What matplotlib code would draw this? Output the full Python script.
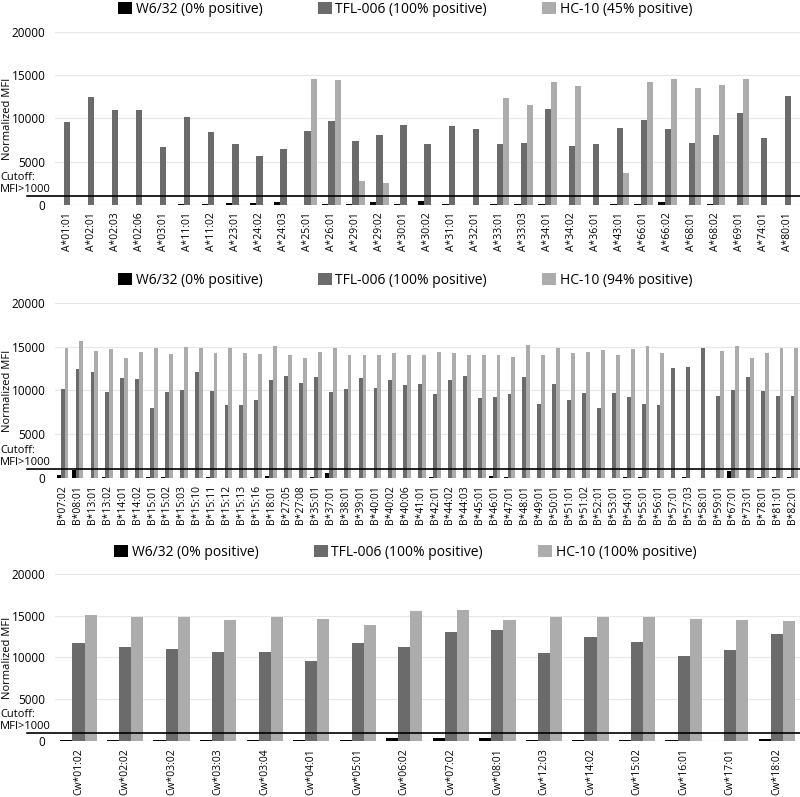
import numpy as np
import matplotlib
matplotlib.use('Agg')
import matplotlib.pyplot as plt

plt.rcParams['font.family'] = ['Open Sans', 'DejaVu Sans']

# HLA-A panel
a_labels = ['A*01:01', 'A*02:01', 'A*02:03', 'A*02:06', 'A*03:01', 'A*11:01', 'A*11:02', 'A*23:01',
            'A*24:02', 'A*24:03', 'A*25:01', 'A*26:01', 'A*29:01', 'A*29:02', 'A*30:01', 'A*30:02',
            'A*31:01', 'A*32:01', 'A*33:01', 'A*33:03', 'A*34:01', 'A*34:02', 'A*36:01', 'A*43:01',
            'A*66:01', 'A*66:02', 'A*68:01', 'A*68:02', 'A*69:01', 'A*74:01', 'A*80:01']
a_w632 = [50, 50, 50, 50, 50, 100, 100, 200, 250, 350, 50, 100, 100, 300, 100, 450,
          150, 50, 100, 100, 100, 50, 50, 100, 150, 300, 50, 100, 50, 50, 50]
a_tfl = [9600, 12500, 10950, 10950, 6700, 10200, 8400, 7000, 5700, 6500, 8500, 9700, 7400, 8100,
         9300, 7000, 9100, 8800, 7100, 7200, 11100, 6800, 7000, 8900, 9800, 8800, 7200, 8100,
         10600, 7700, 12600]
a_hc10 = [30, 30, 30, 30, 30, 30, 30, 30, 30, 30, 14600, 14400, 2800, 2500, 30, 30,
          30, 30, 12350, 11500, 14200, 13700, 30, 3700, 14200, 14600, 13500, 13850, 14600, 30, 30]

# HLA-B panel
b_labels = ['B*07:02', 'B*08:01', 'B*13:01', 'B*13:02', 'B*14:01', 'B*14:02', 'B*15:01', 'B*15:02',
            'B*15:03', 'B*15:10', 'B*15:11', 'B*15:12', 'B*15:13', 'B*15:16', 'B*18:01', 'B*27:05',
            'B*27:08', 'B*35:01', 'B*37:01', 'B*38:01', 'B*39:01', 'B*40:01', 'B*40:02', 'B*40:06',
            'B*41:01', 'B*42:01', 'B*44:02', 'B*44:03', 'B*45:01', 'B*46:01', 'B*47:01', 'B*48:01',
            'B*49:01', 'B*50:01', 'B*51:01', 'B*51:02', 'B*52:01', 'B*53:01', 'B*54:01', 'B*55:01',
            'B*56:01', 'B*57:01', 'B*57:03', 'B*58:01', 'B*59:01', 'B*67:01', 'B*73:01', 'B*78:01',
            'B*81:01', 'B*82:01']
b_w632 = [300, 950, 50, 100, 50, 50, 100, 100, 50, 50, 150, 50, 50, 50, 200, 50,
          50, 100, 600, 50, 50, 50, 50, 50, 50, 150, 50, 50, 50, 250, 100, 50,
          50, 50, 50, 50, 50, 50, 100, 100, 50, 50, 150, 50, 50, 750, 50, 100, 150, 150]
b_tfl = [10200, 12500, 12100, 9800, 11400, 11300, 8000, 9800, 10100, 12100, 9900, 8300, 8300, 8900,
         11200, 11700, 10900, 11500, 9800, 10200, 11400, 10300, 11200, 10600, 10700, 9600, 11200,
         11700, 9100, 9250, 9600, 11500, 8400, 10700, 8900, 9700, 8000, 9700, 9200, 8450, 8300,
         12600, 12700, 14800, 9400, 10100, 11500, 9900, 9400, 9400]
b_hc10 = [14800, 15600, 14500, 14700, 13700, 14400, 14900, 14200, 15000, 14800, 14300, 14800, 14300,
          14200, 15100, 14100, 13700, 14400, 14800, 14000, 14100, 14100, 14300, 14000, 14000, 14400,
          14300, 14100, 14000, 14000, 13800, 15200, 14100, 14800, 14300, 14400, 14600, 14100, 14700,
          15100, 14300, 30, 30, 30, 14500, 15100, 13700, 14300, 14900, 14800]

# HLA-C panel
c_labels = ['Cw*01:02', 'Cw*02:02', 'Cw*03:02', 'Cw*03:03', 'Cw*03:04', 'Cw*04:01', 'Cw*05:01',
            'Cw*06:02', 'Cw*07:02', 'Cw*08:01', 'Cw*12:03', 'Cw*14:02', 'Cw*15:02', 'Cw*16:01',
            'Cw*17:01', 'Cw*18:02']
c_w632 = [100, 100, 100, 100, 100, 100, 100, 350, 400, 350, 150, 100, 100, 150, 50, 200]
c_tfl = [11700, 11300, 11000, 10600, 10700, 9600, 11700, 11200, 13100, 13300, 10500, 12500,
         11800, 10200, 10900, 12800]
c_hc10 = [15100, 14900, 14850, 14500, 14850, 14600, 13900, 15600, 15700, 14500, 14900, 14800,
          14900, 14600, 14500, 14400]

hc10_pos = ['45%', '94%', '100%']

col_w = 'black'
col_tfl = '#6b6b6b'
col_hc = '#acacac'


def draw_panel(ax, labels, w632, tfl, hc10, hc_pct):
    x = np.arange(len(labels))
    w = 0.26
    b1 = ax.bar(x - w, w632, w, color=col_w, label='W6/32 (0% positive)')
    b2 = ax.bar(x, tfl, w, color=col_tfl, label='TFL-006 (100% positive)')
    b3 = ax.bar(x + w, hc10, w, color=col_hc, label='HC-10 (%s positive)' % hc_pct)

    ax.set_xlim(-0.5, len(labels) - 0.5)
    ax.set_ylim(0, 20000)
    ax.set_yticks([0, 5000, 10000, 15000, 20000])
    ax.set_xticks(x)
    ax.set_xticklabels(labels, rotation=90, fontsize=7.5)
    ax.tick_params(axis='y', length=0, pad=7, labelsize=8.5)
    ax.tick_params(axis='x', length=0, pad=5)
    for s in ax.spines.values():
        s.set_visible(False)
    ax.grid(axis='y', color='#e6e6e6', linewidth=0.8)
    ax.set_axisbelow(True)
    ax.axhline(0, color='#d9d9d9', linewidth=0.8, zorder=0.5)

    # cutoff line
    ax.axhline(1000, xmin=-0.038, xmax=1, color='black', linewidth=1.2, clip_on=False, zorder=5)
    ax.text(-0.074, 3150, 'Cutoff:', transform=ax.get_yaxis_transform(), fontsize=8,
            ha='left', va='center')
    ax.text(-0.074, 1750, 'MFI>1000', transform=ax.get_yaxis_transform(), fontsize=8,
            ha='left', va='center')
    ax.set_ylabel('Normalized MFI', fontsize=8)
    ax.yaxis.set_label_coords(-0.056, 0.5)

    ax.legend(handles=[b1, b2, b3], loc='center', bbox_to_anchor=(0.47, 1.13), ncol=3,
              frameon=False, fontsize=10, handlelength=1.0, handleheight=1.0,
              handletextpad=0.25, columnspacing=4.0)


fig = plt.figure(figsize=(8, 7.97), dpi=100)
ax1 = fig.add_axes([0.069, 0.7428, 0.931, 0.2171])
ax2 = fig.add_axes([0.069, 0.4003, 0.931, 0.2196])
ax3 = fig.add_axes([0.069, 0.0703, 0.931, 0.2095])

draw_panel(ax1, a_labels, a_w632, a_tfl, a_hc10, hc10_pos[0])
draw_panel(ax2, b_labels, b_w632, b_tfl, b_hc10, hc10_pos[1])
draw_panel(ax3, c_labels, c_w632, c_tfl, c_hc10, hc10_pos[2])

fig.savefig('out.png', dpi=100)
